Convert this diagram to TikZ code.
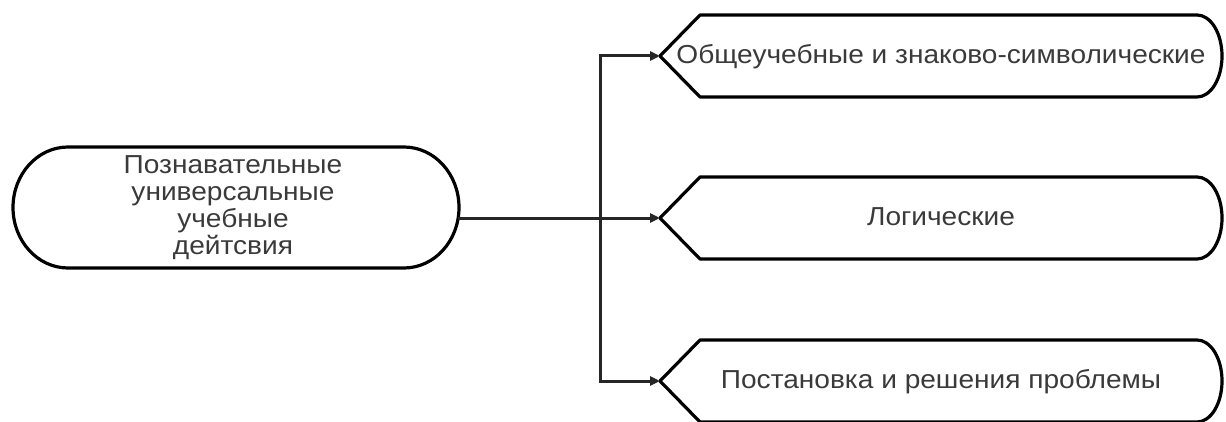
\documentclass[tikz,border=0pt]{standalone}
\usepackage{fontspec}
\setmainfont[FakeStretch=1.08]{Liberation Sans}
\usetikzlibrary{arrows.meta}
\definecolor{txt}{HTML}{3A3A3A}
\begin{document}
\begin{tikzpicture}[x=1pt,y=1pt,
  outline/.style={draw=black,line width=3.2pt,line join=round},
  conn/.style={draw=black!85,line width=3pt,-{Triangle[length=10pt,width=9pt]}},
  lbl/.style={font=\fontsize{26}{27}\selectfont,text=txt,inner sep=0pt,align=center}]
\useasboundingbox (0,0) rectangle (1226,421);
% left terminator
\draw[outline] (68,274) -- (404,274)
  arc[start angle=90,end angle=-90,x radius=55,y radius=60.5]
  -- (68,153)
  arc[start angle=270,end angle=90,x radius=55,y radius=60.5] -- cycle;
\node[lbl] (src) at (233,213) {Познавательные\\универсальные\\учебные\\дейтсвия};
\coordinate (out) at (458,203);
% display shapes
\foreach \cy/\nm in {365/a,203/b,40/c}{
  \draw[outline] (660,\cy) -- (700,\cy+41) -- (1197,\cy+41)
    arc[start angle=90,end angle=-90,x radius=25,y radius=41]
    -- (700,\cy-41) -- cycle;
  \coordinate (tip\nm) at (660,\cy);
}
\node[lbl,anchor=base] (ta) at (941,357.3) {Общеучебные и знаково-символические};
\node[lbl,anchor=base] (tb) at (941,195.3) {Логические};
\node[lbl,anchor=base] (tc) at (941,32.3) {Постановка и решения проблемы};
% connectors
\coordinate (j) at (600,203);
\draw[conn] (out) -- (tipb);
\draw[conn] (j) |- (tipa);
\draw[conn] (j) |- (tipc);
\end{tikzpicture}
\end{document}
